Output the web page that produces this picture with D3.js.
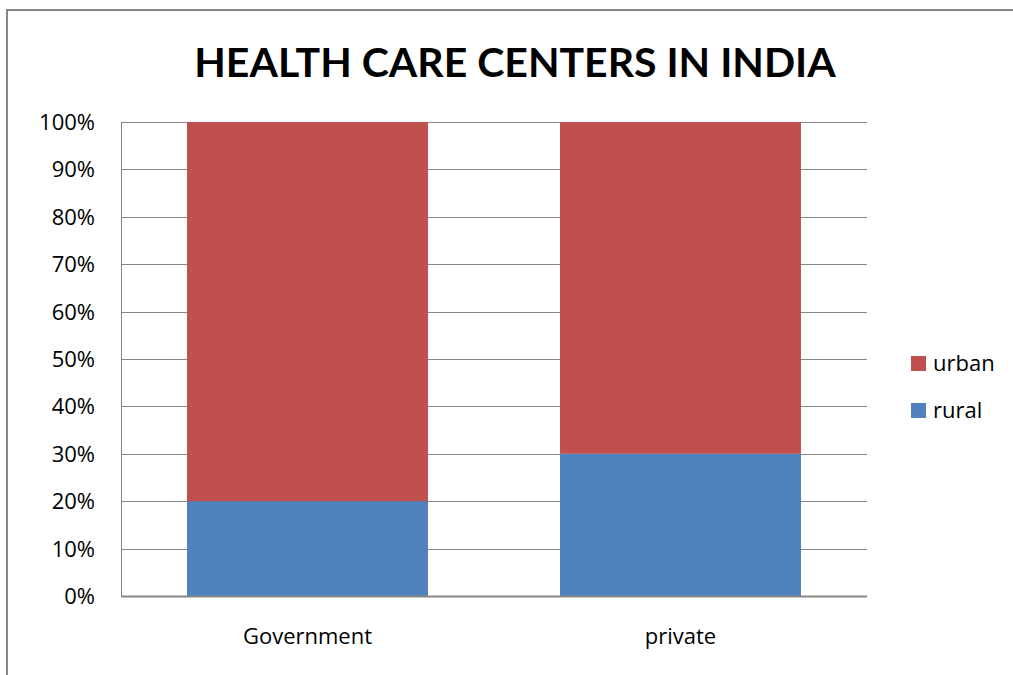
<!DOCTYPE html>
<html><head><meta charset="utf-8">
<script src="https://cdn.jsdelivr.net/npm/d3@7"></script>
<style>body{margin:0;background:#fff;} svg{display:block;}</style>
</head><body>
<svg id="c" width="1013" height="675"></svg>
<script>
const categories = ["Government", "private"];
const rural = [0.20, 0.30];
const urban = [0.80, 0.70];
const seriesNames = ["rural", "urban"];
const seriesColors = ["#4F81BD", "#C0504D"];
const yTicks = [0,0.1,0.2,0.3,0.4,0.5,0.6,0.7,0.8,0.9,1.0];
const title = "HEALTH CARE CENTERS IN INDIA";

const svg = d3.select("#c");
const font = "'Open Sans', sans-serif";
const tfont = "Lato, 'Open Sans', sans-serif";
svg.append("rect").attr("x",7).attr("y",10).attr("width",1020).attr("height",680)
  .attr("fill","#fff").attr("stroke","#868686").attr("stroke-width",2);

const L=121, R=867, T=122, B=596;
const x = d3.scaleBand().domain(categories).range([L,R]).paddingInner(0.354).paddingOuter(0.177);
const y = d3.scaleLinear().domain([0,1]).range([B,T]);

svg.append("text").attr("x",515).attr("y",77).attr("text-anchor","middle")
  .attr("font-family",tfont).attr("font-weight","bold").attr("font-size",41).attr("fill","#000").text(title);

// gridlines
svg.append("g").selectAll("line").data(yTicks).join("line")
  .attr("x1",L).attr("x2",R).attr("y1",d=>Math.round(y(d))+0.5).attr("y2",d=>Math.round(y(d))+0.5)
  .attr("stroke","#868686").attr("stroke-width",1);

const stackData = categories.map((c,i)=>({cat:c, rural:rural[i], urban:urban[i]}));
const stack = d3.stack().keys(seriesNames)(stackData);
svg.append("g").selectAll("g").data(stack).join("g")
  .attr("fill",(d,i)=>seriesColors[i])
  .selectAll("rect").data(d=>d).join("rect")
  .attr("x",d=>x(d.data.cat)).attr("width",x.bandwidth())
  .attr("y",d=>y(d[1])).attr("height",d=>y(d[0])-y(d[1]));

// axes lines
svg.append("line").attr("x1",L+0.5).attr("x2",L+0.5).attr("y1",T).attr("y2",B).attr("stroke","#868686");
svg.append("line").attr("x1",L).attr("x2",R).attr("y1",B+0.5).attr("y2",B+0.5).attr("stroke","#868686").attr("stroke-width",2);

// y labels
svg.append("g").selectAll("text").data(yTicks).join("text")
  .attr("x",95).attr("y",d=>y(d)+8).attr("text-anchor","end")
  .attr("font-family",font).attr("font-size",22).attr("fill","#000")
  .text(d=>d3.format(".0%")(d));

// x labels
svg.append("g").selectAll("text").data(categories).join("text")
  .attr("x",d=>x(d)+x.bandwidth()/2).attr("y",644).attr("text-anchor","middle")
  .attr("font-family",font).attr("font-size",22).attr("fill","#000").text(d=>d);

// legend
const leg = [{n:"urban",c:seriesColors[1]},{n:"rural",c:seriesColors[0]}];
const lg = svg.append("g").selectAll("g").data(leg).join("g")
  .attr("transform",(d,i)=>`translate(911,${356+i*47})`);
lg.append("rect").attr("width",15).attr("height",15).attr("fill",d=>d.c);
lg.append("text").attr("x",22).attr("y",15).attr("font-family",font).attr("font-size",22).attr("fill","#000").text(d=>d.n);
</script>
</body></html>
